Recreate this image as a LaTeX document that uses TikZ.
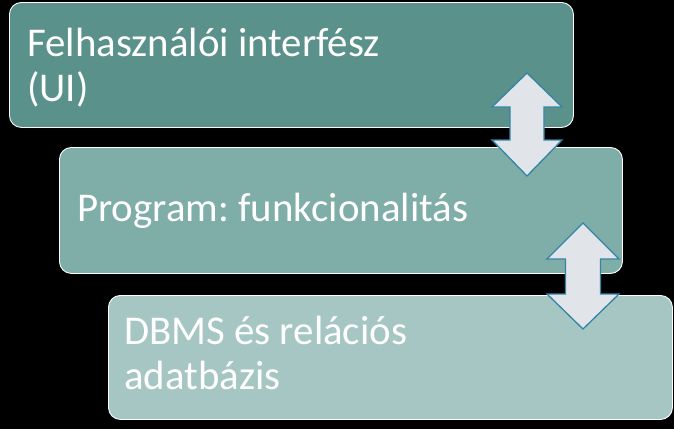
\documentclass[tikz,border=0pt]{standalone}
\usepackage{fontspec}
\setmainfont{Carlito}
\frenchspacing
\begin{document}
\begin{tikzpicture}[x=1bp,y=-1bp]
\definecolor{cOne}{RGB}{90,145,139}
\definecolor{cTwo}{RGB}{127,173,168}
\definecolor{cThree}{RGB}{166,198,196}
\definecolor{arrfill}{RGB}{225,229,234}
\definecolor{arrline}{RGB}{52,132,166}
\tikzset{
  stagebox/.style={draw=white, line width=0.9bp, rounded corners=12bp, anchor=north west, inner sep=0pt},
  stagetext/.style={anchor=base west, inner sep=0pt, text=white, font=\fontsize{41}{45}\selectfont\frenchspacing},
  dblarrow/.style={fill=arrfill, draw=arrline, line width=1.3bp, line join=miter}
}
\fill[black] (0,0) rectangle (674,429);
\useasboundingbox (0,0) rectangle (674,429);
% boxes
\node[stagebox, fill=cOne, minimum width=564bp, minimum height=125bp] (b1) at (9,2) {};
\node[stagebox, fill=cTwo, minimum width=563bp, minimum height=126bp] (b2) at (59,147) {};
\node[stagebox, fill=cThree, minimum width=564bp, minimum height=124bp] (b3) at (108,295) {};
% texts
\node[stagetext] (t1a) at (27,56) {Felhasználói interfész};
\node[stagetext] (t1b) at (27,101) {(UI)};
\node[stagetext] (t2) at (77,221) {Program: funkcionalitás};
\node[stagetext] (t3a) at (124,344) {DBMS és relációs};
\node[stagetext] (t3b) at (124,389) {adatbázis};
% double arrows
\draw[dblarrow] (527,73) -- (562,107) -- (544,107) -- (544,140) -- (562,140) -- (527,176)
  -- (492,140) -- (510,140) -- (510,107) -- (492,107) -- cycle;
\draw[dblarrow] (583,223) -- (619,259) -- (600.5,259) -- (600.5,294) -- (619,294) -- (583,329)
  -- (547,294) -- (565.5,294) -- (565.5,259) -- (547,259) -- cycle;
\end{tikzpicture}
\end{document}
